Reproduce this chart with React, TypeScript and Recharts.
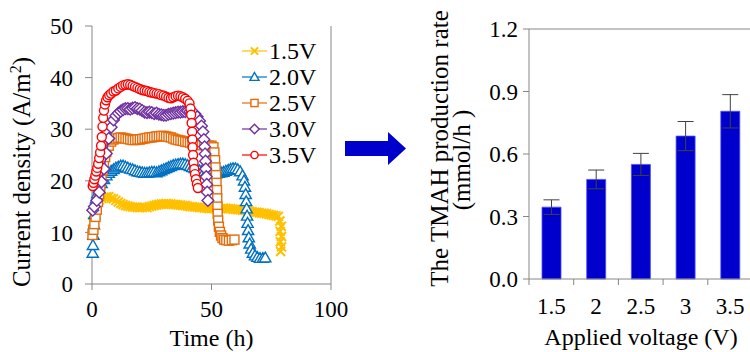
import React from 'react';
import {
  ScatterChart, Scatter, XAxis, YAxis, Legend, ReferenceLine,
  BarChart, Bar, ErrorBar,
} from 'recharts';

const FONT = '"Liberation Serif", "Times New Roman", serif';
const AXIS = '#868686';

// ---- left panel: current density vs time, one run per applied voltage ([hours, A/m2])
const run15V: [number, number][] = [
  [0.2, 12.0], [0.6, 13.2], [1, 14.3], [1.5, 15.2], [2, 15.8], [3, 16.3], [4, 16.6], [5, 16.8],
  [6, 16.9], [7, 16.9], [8, 16.6], [9, 16.5], [10, 16.2], [11, 15.9], [12, 15.6], [13, 15.4],
  [14, 15.2], [15, 15.1], [16, 15.0], [17, 14.9], [18, 14.9], [19, 14.8], [20, 14.8], [21, 14.8],
  [22, 14.9], [23, 14.8], [24, 15.0], [25, 15.1], [26, 15.2], [27, 15.3], [28, 15.4], [29, 15.5],
  [30, 15.5], [31, 15.6], [32, 15.5], [33, 15.5], [34, 15.4], [35, 15.4], [36, 15.3], [37, 15.3],
  [38, 15.2], [39, 15.2], [40, 15.1], [41, 15.0], [42, 15.0], [43, 14.9], [44, 14.9], [45, 14.8],
  [46, 14.8], [47, 14.7], [48, 14.7], [49, 14.6], [50, 14.6], [51, 14.6], [52, 14.5], [53, 14.6],
  [54, 14.6], [55, 14.7], [56, 14.7], [57, 14.6], [58, 14.6], [59, 14.5], [60, 14.5], [61, 14.4],
  [62, 14.4], [63, 14.3], [64, 14.3], [65, 14.2], [66, 14.1], [67, 14.0], [68, 13.9], [69, 13.9],
  [70, 13.8], [71, 13.7], [72, 13.7], [73, 13.6], [74, 13.5], [75, 13.4], [76, 13.3], [77, 13.2],
  [78, 13.1], [78.6, 12.2], [79.2, 11.2], [78.7, 10.2], [79.3, 9.2], [78.8, 8.2], [79.3, 7.2], [78.9, 6.3],
];

const run20V: [number, number][] = [
  [0.3, 6.0], [0.4, 7.5], [0.6, 9.5], [0.8, 11.5], [1.0, 13.5], [1.3, 15.2], [1.7, 16.5], [2.2, 17.5],
  [3, 18.5], [4, 19.5], [5, 20.3], [6, 21.0], [7, 21.5], [8, 21.9], [9, 22.2], [10, 22.5],
  [11, 22.7], [12, 22.9], [13, 22.9], [14, 22.7], [15, 22.5], [16, 22.3], [17, 22.2], [18, 22.0],
  [19, 21.8], [20, 21.7], [21, 21.6], [22, 21.5], [23, 21.5], [24, 21.6], [25, 21.7], [26, 21.7],
  [27, 21.6], [28, 21.8], [29, 22.0], [30, 22.2], [31, 22.4], [32, 22.6], [33, 22.8], [34, 23.0],
  [35, 23.1], [36, 23.2], [37, 23.3], [38, 23.3], [39, 23.2], [40, 23.0], [41, 22.8], [42, 22.6],
  [43, 22.4], [44, 22.2], [45, 22.0], [46, 21.9], [47, 21.8], [48, 21.7], [49, 21.6], [50, 21.5],
  [51, 21.4], [52, 21.4], [53, 21.5], [54, 21.6], [55, 21.7], [56, 21.9], [57, 22.1], [58, 22.3],
  [59, 22.4], [60, 22.4], [61, 22.2], [62, 21.8], [63, 21.0], [63.6, 20.0], [64.0, 18.8], [64.3, 17.4],
  [64.5, 16.0], [64.7, 14.6], [64.9, 13.2], [65.1, 11.8], [65.3, 10.4], [65.6, 9.0], [66.0, 7.8],
  [66.6, 6.8], [67.3, 6.0], [68.2, 5.5], [69.2, 5.2], [70.3, 5.0], [71.5, 5.0], [72.5, 5.1],
];

const run25V: [number, number][] = [
  [0.2, 9.5], [0.6, 10.5], [1, 11.6], [1.5, 13.0], [2, 14.4], [2.5, 15.9], [3, 17.4], [3.5, 19.0],
  [4, 20.5], [4.5, 22.0], [5, 23.4], [5.5, 24.6], [6, 25.6], [7, 26.8], [8, 27.6], [9, 28.0],
  [10, 28.2], [11, 28.3], [12, 28.4], [13, 28.3], [14, 28.2], [15, 28.1], [16, 28.0], [17, 27.9],
  [18, 27.9], [19, 28.0], [20, 28.0], [21, 28.1], [22, 28.2], [23, 28.3], [24, 28.4], [25, 28.4],
  [26, 28.5], [27, 28.6], [28, 28.6], [29, 28.7], [30, 28.7], [31, 28.6], [32, 28.5], [33, 28.4],
  [34, 28.2], [35, 28.0], [36, 27.9], [37, 27.8], [38, 27.7], [39, 27.6], [40, 27.5], [41, 27.4],
  [42, 27.3], [43, 27.2], [44, 27.1], [45, 27.0], [46, 26.9], [47, 26.9], [48, 26.8], [49, 26.8],
  [50, 26.8], [50.8, 26.5], [51.2, 25.5], [51.5, 24.0], [51.7, 22.6], [51.9, 21.1], [52.1, 19.6],
  [52.3, 18.2], [52.4, 16.6], [52.5, 15.0], [52.6, 13.6], [52.8, 12.3], [53.1, 11.1], [53.5, 10.1],
  [54, 9.4], [54.6, 8.9], [55.3, 8.6], [56.2, 8.5], [57.3, 8.4], [58.5, 8.5], [59.6, 8.6],
];

const run30V: [number, number][] = [
  [0.3, 14.3], [1, 15.0], [2, 16.2], [3, 17.8], [4, 19.8], [5, 22.3], [6, 25.3], [7, 28.2],
  [8, 30.4], [9, 31.8], [10, 32.6], [11, 33.1], [12, 33.5], [13, 33.8], [14, 34.0], [15, 34.0],
  [16, 33.9], [17, 34.1], [18, 34.2], [19, 34.0], [20, 33.9], [21, 33.6], [22, 33.3], [23, 33.2],
  [24, 33.3], [25, 33.2], [26, 33.0], [27, 33.1], [28, 32.9], [29, 32.8], [30, 32.7], [31, 32.7],
  [32, 32.9], [33, 33.0], [34, 33.1], [35, 33.2], [36, 33.3], [37, 33.3], [38, 33.4], [39, 33.4],
  [40, 33.5], [41, 33.4], [42, 33.3], [43, 33.0], [44, 32.4], [45, 31.6], [45.8, 30.6], [46.4, 29.5],
  [46.8, 28.0], [47.1, 26.6], [47.3, 25.2], [47.5, 23.8], [47.6, 22.3], [47.8, 20.8], [48.0, 19.3],
  [48.2, 17.8], [48.5, 16.2],
];

const run35V: [number, number][] = [
  [0.3, 19.0], [0.6, 19.6], [1.0, 20.3], [1.4, 21.0], [1.8, 21.8], [2.2, 22.5], [2.6, 23.3],
  [3.0, 24.4], [3.4, 25.5], [3.8, 26.8], [4.1, 28.5], [4.4, 30.5], [4.7, 32.2], [5.0, 33.6],
  [5.4, 34.8], [5.9, 35.6], [6.5, 36.2], [7.2, 36.6], [8, 36.9], [9, 37.3], [10, 37.5], [11, 37.9],
  [12, 38.2], [13, 38.5], [14, 38.6], [15, 38.7], [16, 38.6], [17, 38.4], [18, 38.2], [19, 38.0],
  [20, 37.8], [21, 37.6], [22, 37.5], [23, 37.4], [24, 37.2], [25, 37.1], [26, 37.0], [27, 36.9],
  [28, 36.8], [29, 36.6], [30, 36.5], [31, 36.3], [32, 36.1], [33, 36.0], [34, 36.2], [35, 36.4],
  [36, 36.5], [37, 36.4], [38, 36.2], [39, 35.9], [40, 35.5], [40.8, 35.0], [41.2, 34.0],
  [41.5, 32.8], [41.7, 31.2], [41.9, 29.5], [42.0, 28.0], [42.1, 26.5], [42.3, 25.0], [42.5, 23.5],
  [42.8, 22.3], [43.1, 21.3], [43.5, 20.3], [43.9, 19.4], [44.3, 18.6],
];

const runLabels = ['1.5V', '2.0V', '2.5V', '3.0V', '3.5V'];
const runColors = ['#FFC000', '#0070C0', '#E46C0A', '#7030A0', '#FF0000'];
const runMarkers = ['x', 'triangle', 'square', 'diamond', 'circle'];
const runs = [run15V, run20V, run25V, run30V, run35V];

const timeTicks = [0, 50, 100];
const currentTicks = [0, 10, 20, 30, 40, 50];

// ---- right panel: TMAH production rate per applied voltage
const voltages = ['1.5', '2', '2.5', '3', '3.5'];
const rates = [0.345, 0.478, 0.55, 0.686, 0.805];
const rateErrors = [0.035, 0.045, 0.053, 0.07, 0.08];
const rateTicks = [0, 0.3, 0.6, 0.9, 1.2];

const series = runs.map((pts, i) => ({
  name: runLabels[i],
  color: runColors[i],
  marker: runMarkers[i],
  data: pts.map(([t, v]) => ({ t, v })),
}));

const barData = voltages.map((voltage, i) => ({ voltage, rate: rates[i], err: rateErrors[i] }));

function Marker({ kind, cx, cy, color, s = 4.5 }: { kind: string; cx: number; cy: number; color: string; s?: number }) {
  const sw = 1.4;
  switch (kind) {
    case 'circle':
      return <circle cx={cx} cy={cy} r={s} fill="#fff" stroke={color} strokeWidth={sw} />;
    case 'square':
      return <rect x={cx - s} y={cy - s} width={2 * s} height={2 * s} fill="#fff" stroke={color} strokeWidth={sw} />;
    case 'diamond': {
      const d = s * 1.3;
      return (
        <polygon
          points={`${cx},${cy - d} ${cx + d},${cy} ${cx},${cy + d} ${cx - d},${cy}`}
          fill="#fff" stroke={color} strokeWidth={sw}
        />
      );
    }
    case 'triangle': {
      const d = s * 1.25;
      return (
        <polygon
          points={`${cx},${cy - d} ${cx + d},${cy + d * 0.75} ${cx - d},${cy + d * 0.75}`}
          fill="#fff" stroke={color} strokeWidth={sw}
        />
      );
    }
    default:
      return (
        <g stroke={color} strokeWidth={2}>
          <line x1={cx - s} y1={cy - s} x2={cx + s} y2={cy + s} />
          <line x1={cx - s} y1={cy + s} x2={cx + s} y2={cy - s} />
        </g>
      );
  }
}

const renderLegend = () => (
  <div style={{ fontFamily: FONT }}>
    {series.map((s) => (
      <div key={s.name} style={{ display: 'flex', alignItems: 'center', height: 26 }}>
        <svg width={31} height={26}>
          <line x1={4} x2={29} y1={13} y2={13} stroke={s.color} strokeWidth={1.2} />
          <Marker kind={s.marker} cx={16.5} cy={13} color={s.color} s={3.6} />
        </svg>
        <span style={{ fontSize: 24, lineHeight: '26px', color: '#000' }}>{s.name}</span>
      </div>
    ))}
  </div>
);

// right panel x ticks sit on category boundaries (Excel style)
const X_TICK_SIZE = 6;
const X_TICK_MARGIN = 13;
const BAR_PLOT_W = 223.5;
const BAND = BAR_PLOT_W / voltages.length;

const VoltageTick = (props: any) => {
  const { x, y, payload, index } = props;
  const axisY = y - X_TICK_SIZE - X_TICK_MARGIN;
  const half = BAND / 2;
  return (
    <g>
      <line x1={x - half} x2={x - half} y1={axisY} y2={axisY + X_TICK_SIZE} stroke={AXIS} />
      {index === voltages.length - 1 && (
        <line x1={x + half} x2={x + half} y1={axisY} y2={axisY + X_TICK_SIZE} stroke={AXIS} />
      )}
      <text x={x} y={y} dy="0.71em" textAnchor="middle" fill="#000" fontSize={23} fontFamily={FONT}>
        {payload.value}
      </text>
    </g>
  );
};

const tickStyle = { fill: '#000', fontSize: 23, fontFamily: FONT };

export default function App() {
  return (
    <div style={{ position: 'fixed', left: 0, top: 0, width: 750, height: 352, overflow: 'hidden', background: '#fff' }}>
      <div style={{ position: 'absolute', left: 0, top: 0 }}>
        <ScatterChart width={360} height={352} margin={{ top: 26, right: 29, bottom: 0, left: 0 }}>
          <XAxis
            type="number" dataKey="t" domain={[0, 100]} ticks={timeTicks} height={68}
            stroke={AXIS} tickSize={6} tickMargin={11} tick={tickStyle}
          />
          <YAxis
            type="number" dataKey="v" domain={[0, 50]} ticks={currentTicks} width={92}
            stroke={AXIS} tickSize={7} tickMargin={12} tick={tickStyle}
          />
          <ReferenceLine x={100} stroke={AXIS} />
          {series.map((s) => (
            <Scatter
              key={s.name}
              name={s.name}
              data={s.data}
              fill={s.color}
              line={{ stroke: s.color, strokeWidth: 1.5 }}
              shape={(p: any) => <Marker kind={s.marker} cx={p.cx} cy={p.cy} color={s.color} />}
              isAnimationActive={false}
            />
          ))}
          <Legend
            layout="vertical" align="center" verticalAlign="middle"
            content={renderLegend}
            wrapperStyle={{ left: 238, top: 38, width: 100, height: 130 }}
          />
        </ScatterChart>
      </div>

      <div style={{ position: 'absolute', left: 400, top: 0 }}>
        <BarChart width={360} height={352} data={barData} margin={{ top: 29, right: 7.5, bottom: 0, left: 0 }}>
          <XAxis
            dataKey="voltage" height={73} interval={0} stroke={AXIS} tickLine={false}
            tickSize={X_TICK_SIZE} tickMargin={X_TICK_MARGIN}
            tick={(p: any) => <VoltageTick {...p} />}
          />
          <YAxis
            type="number" domain={[0, 1.2]} ticks={rateTicks} width={129}
            stroke={AXIS} tickSize={6} tickMargin={5} tick={tickStyle}
            tickFormatter={(v: number) => v.toFixed(1)}
          />
          <ReferenceLine y={1.2} stroke={AXIS} />
          <Bar dataKey="rate" fill="#0000CC" stroke="#4d4dff" strokeWidth={0.8} barSize={19} isAnimationActive={false}>
            <ErrorBar dataKey="err" width={8} stroke="#404040" strokeWidth={1} />
          </Bar>
        </BarChart>
      </div>

      <svg width={750} height={352} style={{ position: 'absolute', left: 0, top: 0, pointerEvents: 'none' }} fontFamily={FONT} fill="#000">
        <text x={30} y={172} transform="rotate(-90 30 172)" textAnchor="middle" fontSize={25}>
          Current density (A/m<tspan dy={-9} fontSize={16}>2</tspan><tspan dy={9}>)</tspan>
        </text>
        <text x={211.5} y={346} textAnchor="middle" fontSize={24}>Time (h)</text>
        <polygon points="345,141 388,141 388,132 406,148.5 388,165 388,156 345,156" fill="#0000CC" />
        <text x={448} y={148.5} transform="rotate(-90 448 148.5)" textAnchor="middle" fontSize={25}>
          The TMAH production rate
        </text>
        <text x={470} y={160} transform="rotate(-90 470 160)" textAnchor="middle" fontSize={25}>
          (mmol/h )
        </text>
        <text x={641} y={345} textAnchor="middle" fontSize={24}>Applied voltage (V)</text>
      </svg>
    </div>
  );
}
